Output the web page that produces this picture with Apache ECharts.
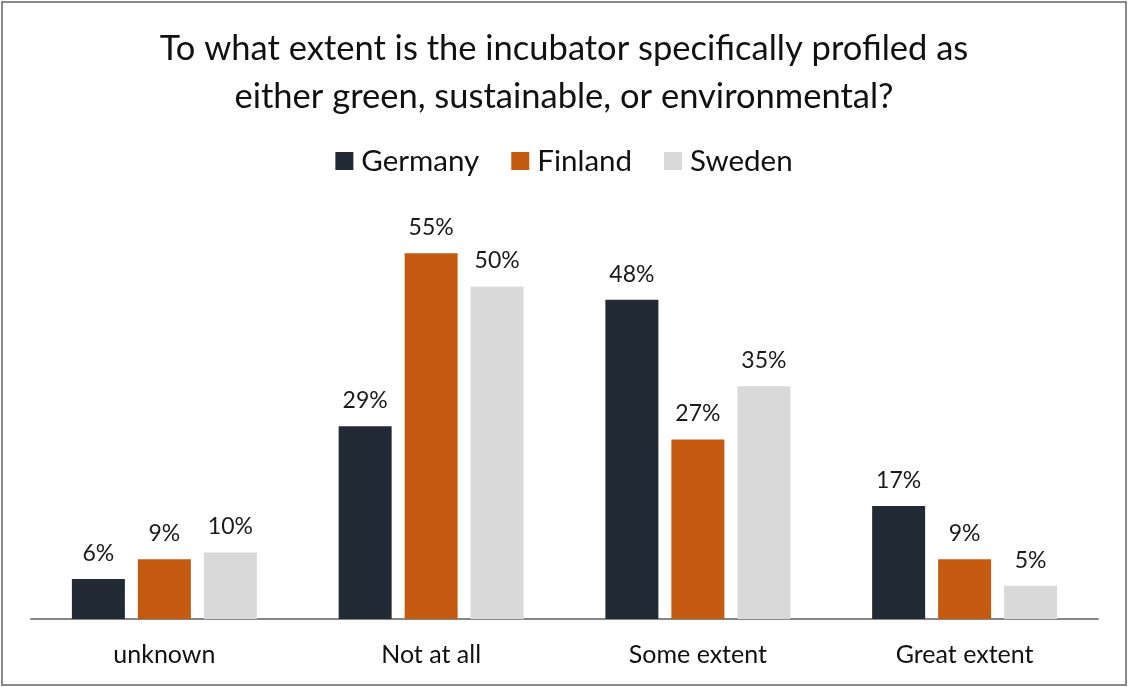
<!DOCTYPE html>
<html>
<head>
<meta charset="utf-8">
<script src="https://cdn.jsdelivr.net/npm/echarts@6/dist/echarts.min.js"></script>
<style>
  html, body { margin: 0; padding: 0; background: #ffffff; }
  #frame { position: absolute; left: 1px; top: 1px; width: 1122px; height: 681px; border: 2px solid #898989; box-sizing: content-box; }
  #chart { position: absolute; left: 0; top: 0; width: 1128px; height: 687px; }
</style>
</head>
<body>
<div id="frame"></div>
<div id="chart"></div>
<script>
// Survey answers (share of incubators, %)
const categories = ['unknown', 'Not at all', 'Some extent', 'Great extent'];
const germany = [6, 29, 48, 17];
const finland = [9, 55, 27, 9];
const sweden = [10, 50, 35, 5];
const seriesNames = ['Germany', 'Finland', 'Sweden'];
const seriesColors = ['#222a35', '#c55a11', '#d9d9d9'];

const FONT = 'Lato, "Open Sans", sans-serif';
const chart = echarts.init(document.getElementById('chart'), null, { renderer: 'canvas' });

function barSeries(name, data, color) {
  return {
    name: name,
    type: 'bar',
    data: data,
    barWidth: 53,
    barGap: '24.5%',
    itemStyle: { color: color },
    label: {
      show: true,
      position: 'top',
      distance: 14,
      formatter: '{c}%',
      color: '#1a1a1a',
      fontSize: 23,
      fontFamily: FONT
    }
  };
}

chart.setOption({
  backgroundColor: 'transparent',
  animation: false,
  title: {
    text: 'To what extent is the incubator specifically profiled as\neither green, sustainable, or environmental?',
    left: 'center',
    top: 20,
    textStyle: { fontSize: 34.5, fontWeight: 'normal', color: '#111111', fontFamily: FONT, lineHeight: 48 }
  },
  legend: {
    data: seriesNames,
    top: 141,
    left: 'center',
    itemWidth: 18,
    itemHeight: 18,
    itemGap: 32,
    icon: 'rect',
    textStyle: { fontSize: 29.5, color: '#111111', fontFamily: FONT, padding: [0, 0, 0, 3] }
  },
  grid: { left: 31, right: 30, top: 220, bottom: 68, containLabel: false },
  xAxis: {
    type: 'category',
    data: categories,
    axisLine: { lineStyle: { color: '#868686', width: 2 } },
    axisTick: { show: false },
    axisLabel: { fontSize: 25, color: '#111111', fontFamily: FONT, margin: 23 }
  },
  yAxis: {
    type: 'value',
    min: 0,
    max: 60,
    show: false,
    splitLine: { show: false }
  },
  series: [
    barSeries(seriesNames[0], germany, seriesColors[0]),
    barSeries(seriesNames[1], finland, seriesColors[1]),
    barSeries(seriesNames[2], sweden, seriesColors[2])
  ]
});
</script>
</body>
</html>
